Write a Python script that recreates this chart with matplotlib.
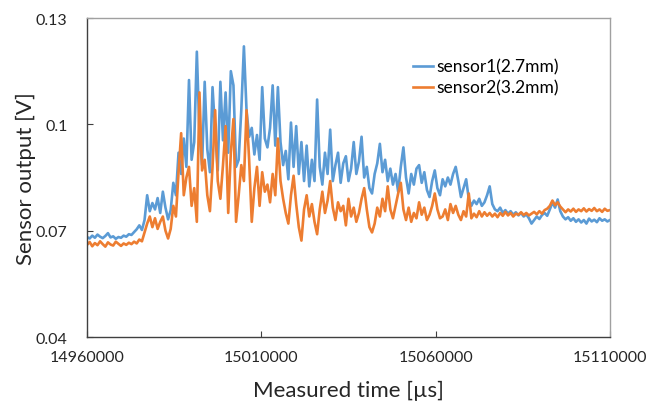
import numpy as np
import matplotlib
matplotlib.use("Agg")
import matplotlib.pyplot as plt

# sample step 750 us, starting at 14960000 us
t_start = 14960000
t_step = 750

# sensor1 (2.7mm) output, mV
sensor1_mv = [
    68.2, 67.8, 68.6, 68.0, 68.9, 68.3, 67.9, 68.5, 69.3, 68.1,
    68.4, 67.7, 68.2, 68.0, 68.6, 68.3, 69.0, 68.8, 69.6, 70.4,
    71.5, 70.2, 73.0, 80.0, 75.5, 77.8, 76.0, 79.2, 75.0, 81.0,
    76.5, 73.2, 75.8, 83.5, 80.0, 92.0, 86.0, 96.0, 88.0, 112.5,
    90.0, 95.0, 120.5, 97.5, 88.5, 112.0, 93.0, 86.5, 110.5, 98.0,
    87.0, 112.0, 95.5, 109.0, 92.0, 115.0, 111.0, 88.0, 90.0, 104.0,
    122.0, 104.0, 96.5, 99.0, 91.5, 97.0, 90.0, 110.5, 96.0, 93.5,
    99.0, 111.0, 94.0, 110.5, 95.0, 88.5, 92.5, 84.5, 100.5, 88.0,
    99.5, 86.0, 95.0, 84.0, 94.0, 82.5, 90.0, 84.0, 107.0, 88.0,
    83.0, 92.0, 86.0, 98.5, 84.0, 88.5, 92.0, 83.5, 89.0, 91.0,
    84.0, 87.5, 95.0, 86.0, 89.5, 96.5, 85.0, 88.0, 82.0, 80.5,
    86.0, 89.0, 94.5, 86.5, 90.0, 84.0, 87.5, 83.0, 86.0, 81.0,
    88.0, 93.5, 85.0, 80.5, 86.0, 83.0, 87.5, 88.5, 83.5, 86.5,
    81.5, 79.5, 84.0, 87.0, 82.0, 80.0, 84.5, 82.5, 85.0, 83.0,
    86.0, 88.0, 84.0, 79.5, 82.0, 84.5, 79.0, 77.0, 78.5, 77.5,
    79.0, 77.0, 78.0, 80.0, 82.5, 77.5, 76.0, 75.5, 76.5, 75.0,
    75.8, 74.8, 75.5, 74.5, 75.2, 74.3, 75.0, 74.0, 74.6, 73.5,
    72.0, 73.0, 74.0, 73.3, 74.4, 75.0, 74.2, 76.0, 78.0, 76.5,
    78.8, 75.5, 74.0, 73.2, 73.8, 72.8, 73.5, 72.5, 73.2, 72.3,
    73.0, 72.0, 73.4, 72.6, 73.1, 72.4, 73.5, 72.8, 73.2, 72.6,
    73.0,
]

# sensor2 (3.2mm) output, mV
sensor2_mv = [
    66.0, 66.8, 65.6, 66.5, 65.9, 67.0, 66.2, 65.5, 66.7, 66.1,
    65.8, 66.9, 66.3, 65.7, 66.4, 66.0, 66.6, 66.2, 66.9, 66.4,
    67.5, 67.0, 69.5, 72.0, 74.0, 71.0, 73.5, 70.5, 72.5, 74.0,
    70.0, 67.8, 70.5, 77.0, 74.0, 86.5, 97.5, 80.0, 85.0, 88.0,
    77.0, 82.0, 72.5, 109.0, 87.0, 90.0, 80.0, 75.5, 88.0, 104.0,
    84.0, 79.0, 88.5, 99.5, 75.0, 92.0, 101.5, 72.5, 80.0, 88.5,
    84.0, 104.0, 90.0, 72.5, 82.0, 88.0, 77.0, 86.5, 81.0, 83.0,
    78.0, 86.0, 80.0, 96.0, 84.0, 79.0, 75.0, 72.0, 80.0, 85.5,
    77.5, 71.0, 67.2, 76.0, 80.0, 74.0, 77.5, 72.5, 69.0, 76.0,
    81.0, 75.0, 78.5, 84.0, 76.5, 73.0, 78.0, 75.5, 77.0, 71.5,
    79.0, 74.0, 76.5, 72.5, 75.0, 79.0, 82.0, 76.0, 71.0, 69.5,
    72.0, 76.5, 74.0, 79.0, 75.5, 82.5, 76.0, 73.5, 77.0, 80.5,
    83.5, 76.0, 73.0, 76.5, 72.5, 75.0, 73.5, 78.0, 74.5, 76.5,
    73.0, 74.5, 77.0, 80.5, 76.0, 73.5, 74.0, 76.0, 73.0, 77.5,
    75.0, 77.0, 74.5, 73.0, 75.5, 74.0, 80.5, 73.5, 74.8, 73.8,
    75.5, 74.0, 75.2, 74.2, 75.0, 74.0, 74.8, 73.8, 75.0, 74.2,
    75.3, 74.3, 75.0, 74.0, 74.8, 74.5, 75.2, 74.4, 75.0, 74.3,
    74.8, 75.3, 74.6, 75.5, 74.8, 75.8, 76.2, 77.0, 78.5, 77.2,
    78.0, 76.8, 76.0, 75.2, 76.0, 75.4, 76.2, 75.3, 76.0, 75.5,
    76.3, 75.4, 76.1, 75.6, 76.4, 75.5, 76.0, 75.3, 76.2, 75.6,
    75.8,
]

x_ticks = [14960000, 15010000, 15060000, 15110000]
y_ticks = [0.04, 0.07, 0.1, 0.13]
y_tick_labels = ["0.04", "0.07", "0.1", "0.13"]

plt.rcParams["font.family"] = ["Lato", "DejaVu Sans"]

t1 = t_start + t_step * np.arange(len(sensor1_mv))
t2 = t_start + t_step * np.arange(len(sensor2_mv))
v1 = np.array(sensor1_mv) / 1000.0
v2 = np.array(sensor2_mv) / 1000.0

fig = plt.figure(figsize=(6.48, 4.02), dpi=100)
ax = fig.add_axes([0.1343, 0.1592, 0.807, 0.7935])

ax.plot(t1, v1, color="#5B9BD5", lw=1.9, label="sensor1(2.7mm)")
ax.plot(t2, v2, color="#ED7D31", lw=1.9, label="sensor2(3.2mm)")

ax.set_xlim(x_ticks[0], x_ticks[-1])
ax.set_ylim(0.04, 0.13)
ax.set_xticks(x_ticks)
ax.set_xticklabels([str(v) for v in x_ticks])
ax.set_yticks(y_ticks)
ax.set_yticklabels(y_tick_labels)
ax.tick_params(direction="in", length=4, width=0.8, color="#404040",
               labelsize=11.5, labelcolor="#262626")
ax.tick_params(axis="x", pad=9)
ax.tick_params(axis="y", pad=14)

for side in ["left", "bottom"]:
    ax.spines[side].set_color("#404040")
    ax.spines[side].set_linewidth(1.0)
for side in ["top", "right"]:
    ax.spines[side].set_color("#a0a0a0")
    ax.spines[side].set_linewidth(1.0)

ax.set_xlabel("Measured time [µs]", fontsize=16, color="#262626", labelpad=12)
ax.set_ylabel("Sensor output [V]", fontsize=16, color="#262626", labelpad=0)

ax.legend(loc="upper right", bbox_to_anchor=(0.915, 0.895), frameon=False,
          fontsize=12.5, handlelength=1.2, handletextpad=0.15,
          labelspacing=0.3, borderaxespad=0)

fig.savefig("out.png", dpi=100)
